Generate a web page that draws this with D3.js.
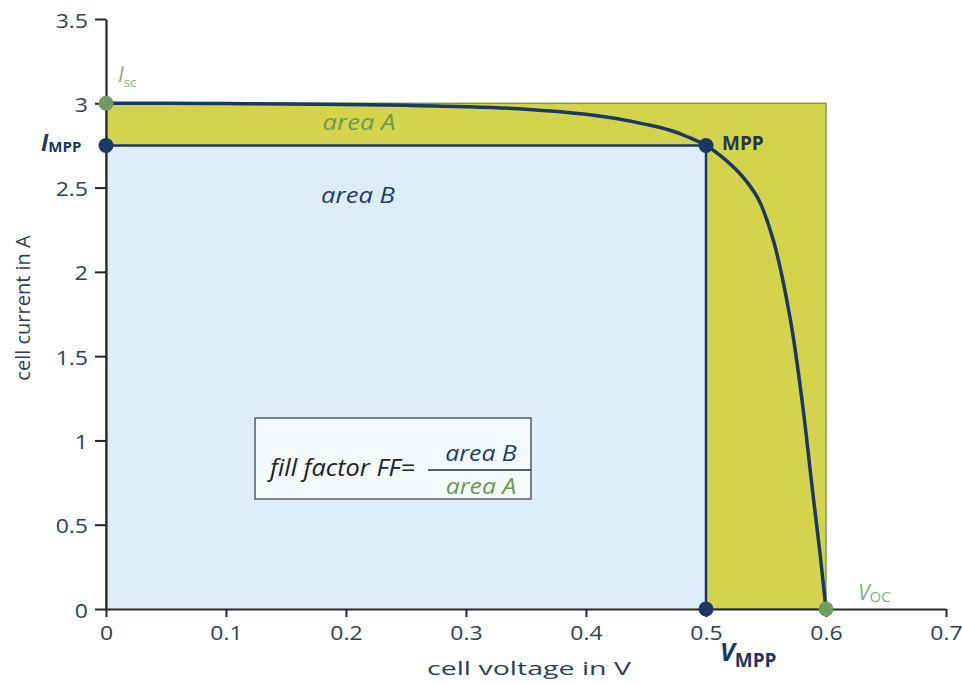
<!DOCTYPE html>
<html>
<head>
<meta charset="utf-8">
<script src="https://cdn.jsdelivr.net/npm/d3@7"></script>
<style>
  html, body { margin: 0; padding: 0; background: #ffffff; }
  svg { display: block; font-family: "Open Sans", "Noto Sans", sans-serif; }
</style>
</head>
<body>
<svg id="chart" width="962" height="684"></svg>
<script>
// I–V characteristic of a solar cell (cell voltage in V, cell current in A)
const voltage = [0, 0.05, 0.1, 0.15, 0.2, 0.25, 0.3, 0.35, 0.4, 0.425, 0.45, 0.47, 0.485, 0.5,
                 0.512, 0.528, 0.543, 0.556, 0.57, 0.58, 0.588, 0.595, 0.6];
const current = [3.0, 3.0, 2.998, 2.996, 2.993, 2.988, 2.98, 2.965, 2.935, 2.91, 2.875, 2.84, 2.8, 2.75,
                 2.69, 2.585, 2.44, 2.19, 1.73, 1.24, 0.75, 0.33, 0];

// characteristic points
const Isc = 3.0;
const Voc = 0.6;
const Vmpp = 0.5;
const Impp = 2.75;

const xTicks = [0, 0.1, 0.2, 0.3, 0.4, 0.5, 0.6, 0.7];
const xTickLabels = ["0", "0.1", "0.2", "0.3", "0.4", "0.5", "0.6", "0.7"];
const yTicks = [0, 0.5, 1, 1.5, 2, 2.5, 3, 3.5];
const yTickLabels = ["0", "0.5", "1", "1.5", "2", "2.5", "3", "3.5"];

const svg = d3.select("#chart");

const x = d3.scaleLinear().domain([0, 0.7]).range([106, 946]);
const y = d3.scaleLinear().domain([0, 3.5]).range([609, 19]);

const navy = "#1b3763";
const green = "#6f9d66";
const paleGreen = "#8aab86";
const yellow = "#d4d44c";
const blue = "#dceefa";
const tickColor = "#2f4154";

// stretch text horizontally by factor k (the typeface here runs wide)
function widen(sel, k) {
  sel.each(function () {
    const w = this.getComputedTextLength();
    d3.select(this).attr("textLength", w * k).attr("lengthAdjust", "spacingAndGlyphs");
  });
}

// area A: rectangle Isc × Voc
svg.append("rect")
  .attr("x", x(0)).attr("y", y(Isc))
  .attr("width", x(Voc) - x(0)).attr("height", y(0) - y(Isc))
  .attr("fill", yellow)
  .attr("stroke", "#7f9848").attr("stroke-width", 1.5);

// area B: rectangle Impp × Vmpp
svg.append("rect")
  .attr("x", x(0)).attr("y", y(Impp))
  .attr("width", x(Vmpp) - x(0)).attr("height", y(0) - y(Impp))
  .attr("fill", blue);

svg.append("path")
  .attr("d", d3.line()([[x(0), y(Impp)], [x(Vmpp), y(Impp)], [x(Vmpp), y(0)]]))
  .attr("fill", "none").attr("stroke", navy).attr("stroke-width", 2.5);

// axes
const xAxis = d3.axisBottom(x).tickValues(xTicks)
  .tickFormat((d, i) => xTickLabels[i]).tickSize(8).tickSizeOuter(0).tickPadding(6);
const yAxis = d3.axisLeft(y).tickValues(yTicks)
  .tickFormat((d, i) => yTickLabels[i]).tickSize(11).tickSizeOuter(0).tickPadding(7);

const gx = svg.append("g").attr("transform", `translate(0,${y(0)})`).call(xAxis);
const gy = svg.append("g").attr("transform", `translate(${x(0)},0)`).call(yAxis);

[gx, gy].forEach(g => {
  g.select(".domain").attr("stroke", "#262626").attr("stroke-width", 2.2);
  g.selectAll(".tick line").attr("stroke", "#262626").attr("stroke-width", 2);
  g.selectAll(".tick text").attr("fill", tickColor)
    .attr("font-size", 20).attr("font-family", "'Open Sans', sans-serif");
  widen(g.selectAll(".tick text"), 1.15);
});
gy.selectAll(".tick text").attr("dy", "0.4em");
gx.selectAll(".tick text").attr("dy", "0.85em");

// axis titles
svg.append("text")
  .attr("x", 529).attr("y", 675)
  .attr("text-anchor", "middle")
  .attr("font-size", 19).attr("fill", tickColor)
  .text("cell voltage in V")
  .call(widen, 1.5);

svg.append("text")
  .attr("transform", `translate(30,308) rotate(-90)`)
  .attr("text-anchor", "middle")
  .attr("font-size", 20).attr("fill", tickColor)
  .text("cell current in A");

// I–V curve
const line = d3.line()
  .x((d, i) => x(voltage[i]))
  .y((d, i) => y(current[i]))
  .curve(d3.curveCatmullRom.alpha(0.5));

svg.append("path")
  .datum(voltage)
  .attr("d", line)
  .attr("fill", "none")
  .attr("stroke", navy)
  .attr("stroke-width", 3.5)
  .attr("stroke-linejoin", "round");

// marker dots
const dots = [
  { v: 0, i: Isc, c: green },
  { v: 0, i: Impp, c: navy },
  { v: Vmpp, i: Impp, c: navy },
  { v: Vmpp, i: 0, c: navy },
  { v: Voc, i: 0, c: green }
];
svg.selectAll("circle.pt").data(dots).join("circle")
  .attr("class", "pt")
  .attr("cx", d => x(d.v)).attr("cy", d => y(d.i))
  .attr("r", 7.5).attr("fill", d => d.c);

// point labels
const isc = svg.append("text").attr("x", 118).attr("y", 82).attr("fill", paleGreen);
isc.append("tspan").attr("font-size", 21).attr("font-style", "italic").text("I");
isc.append("tspan").attr("font-size", 13).attr("dy", 5).text("sc");

const impp = svg.append("text").attr("x", 41).attr("y", 151).attr("fill", navy).attr("font-weight", "bold");
impp.append("tspan").attr("font-size", 23).attr("font-style", "italic").text("I");
impp.append("tspan").attr("font-size", 15).attr("dy", 1).text("MPP");

svg.append("text").attr("x", 722).attr("y", 150)
  .attr("font-size", 19).attr("font-weight", "bold").attr("fill", "#263648")
  .text("MPP");

const vmpp = svg.append("text").attr("x", 720).attr("y", 661).attr("fill", navy).attr("font-weight", "bold");
vmpp.append("tspan").attr("font-size", 25).attr("font-style", "italic").text("V");
vmpp.append("tspan").attr("font-size", 19).attr("dy", 6).text("MPP");

const voc = svg.append("text").attr("x", 858).attr("y", 600).attr("fill", paleGreen);
voc.append("tspan").attr("font-size", 21).attr("font-style", "italic").text("V");
voc.append("tspan").attr("font-size", 15).attr("dy", 2).text("OC");

// area labels
svg.append("text").attr("x", 359).attr("y", 130)
  .attr("text-anchor", "middle").attr("font-size", 21).attr("font-style", "italic")
  .attr("fill", "#6c9a53").text("area A")
  .call(widen, 1.22);

svg.append("text").attr("x", 358).attr("y", 203)
  .attr("text-anchor", "middle").attr("font-size", 21).attr("font-style", "italic")
  .attr("fill", "#223c68").text("area B")
  .call(widen, 1.22);

// fill factor formula box
svg.append("rect")
  .attr("x", 255).attr("y", 418).attr("width", 276).attr("height", 81)
  .attr("fill", "#f4f9fc").attr("stroke", "#5f6569").attr("stroke-width", 1.6);

svg.append("text").attr("x", 270).attr("y", 476)
  .attr("font-size", 23).attr("font-style", "italic").attr("fill", "#222222")
  .text("fill factor FF=")
  .call(widen, 1.1);

svg.append("line")
  .attr("x1", 428).attr("x2", 531).attr("y1", 470).attr("y2", 470)
  .attr("stroke", "#2a2a2a").attr("stroke-width", 1.6);

svg.append("text").attr("x", 481).attr("y", 461)
  .attr("text-anchor", "middle").attr("font-size", 21).attr("font-style", "italic")
  .attr("fill", "#223c68").text("area B")
  .call(widen, 1.18);

svg.append("text").attr("x", 481).attr("y", 494)
  .attr("text-anchor", "middle").attr("font-size", 21).attr("font-style", "italic")
  .attr("fill", "#6c9a53").text("area A")
  .call(widen, 1.18);
</script>
</body>
</html>
